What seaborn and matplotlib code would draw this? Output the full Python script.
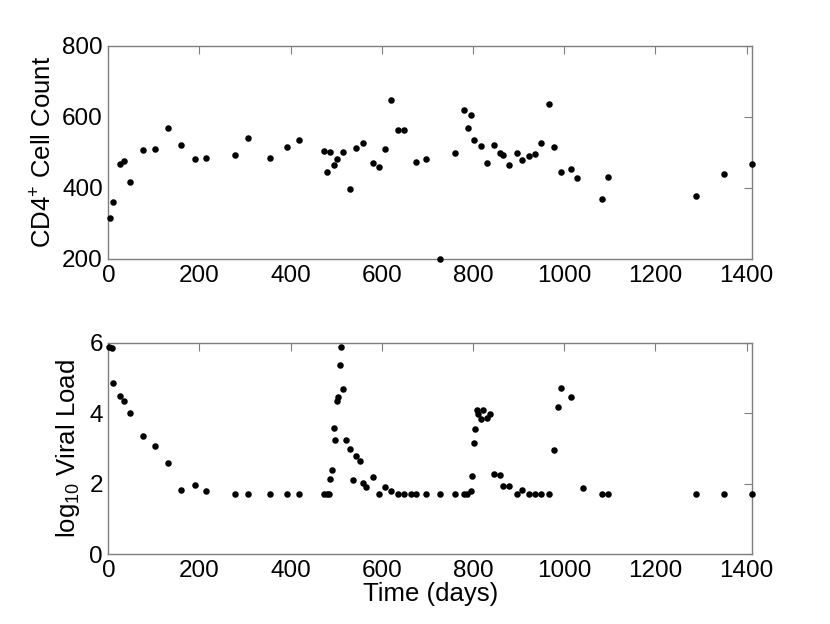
import matplotlib
matplotlib.use("Agg")
import matplotlib.pyplot as plt
import seaborn as sns
import pandas as pd

cd4_days = [4.5, 11, 25.7, 33.7, 47.6, 75.4, 103, 131, 159, 189.5, 215, 277, 307, 354,
            392, 419, 473, 480, 487, 494, 501, 515, 530, 543, 558, 581, 593, 606, 620,
            635, 649, 676, 697, 727, 760, 781, 789, 795, 802, 817, 830, 847, 859, 865,
            879, 896, 907, 923, 936, 950, 966, 978, 993, 1014, 1028, 1083, 1097, 1289,
            1350, 1412]
cd4_count = [314, 361, 467, 477, 418, 507, 509, 570, 522, 481, 484, 494, 540, 484,
             515, 535, 504, 445, 502, 465, 481, 502, 397, 513, 527, 470, 459, 511, 647,
             563, 564, 472, 482, 200, 498, 620, 569, 604, 535, 519, 471, 520, 497, 494,
             465, 497, 479, 490, 496, 527, 635, 516, 446, 452, 427, 370, 431, 377,
             438, 468]

vl_days = [2, 7, 11, 26, 34, 48, 75, 103, 131, 159, 189.5, 215, 277, 307, 354, 392, 419,
           473, 479, 484, 487, 490, 494, 497.5, 501, 503, 508, 510, 515, 522, 530, 537,
           543, 552, 558, 566, 581, 593, 606, 620, 635, 649, 663, 676, 697, 727, 760,
           781, 787, 795, 797, 802, 805, 809, 811, 817, 823, 830, 838, 847, 859, 865,
           879, 896, 907, 923, 936, 950, 966, 978, 987, 993, 1014, 1042, 1083, 1097,
           1289, 1350, 1412]
vl_log = [5.87, 5.86, 4.86, 4.48, 4.33, 3.99, 3.34, 3.06, 2.59, 1.82, 1.97, 1.79, 1.7,
          1.7, 1.7, 1.7, 1.7, 1.7, 1.7, 1.7, 2.14, 2.38, 3.57, 3.23, 4.33, 4.45, 5.37,
          5.88, 4.68, 3.23, 2.99, 2.09, 2.77, 2.63, 2.03, 1.90, 2.19, 1.7, 1.90, 1.79,
          1.7, 1.7, 1.7, 1.7, 1.7, 1.7, 1.7, 1.7, 1.7, 1.79, 2.21, 3.16, 3.54, 4.08,
          3.98, 3.84, 4.08, 3.87, 3.98, 2.26, 2.24, 1.92, 1.93, 1.7, 1.83, 1.7, 1.7,
          1.7, 1.7, 2.96, 4.18, 4.71, 4.46, 1.87, 1.7, 1.7, 1.7, 1.7, 1.7]

x_ticks = [0, 200, 400, 600, 800, 1000, 1200, 1400]
cd4_ticks = [200, 400, 600, 800]
vl_ticks = [0, 2, 4, 6]

sns.set_style("white")
plt.rcParams['font.family'] = ['Liberation Sans', 'DejaVu Sans']
plt.rcParams['mathtext.fontset'] = 'custom'
plt.rcParams['mathtext.rm'] = 'Liberation Sans'
plt.rcParams['mathtext.it'] = 'Liberation Sans'
plt.rcParams['axes.labelcolor'] = 'black'
plt.rcParams['text.color'] = 'black'

fig = plt.figure(figsize=(8.3, 6.24), dpi=100)
ax1 = fig.add_axes([0.1305, 0.585, 0.7755, 0.3415])
ax2 = fig.add_axes([0.1305, 0.112, 0.7755, 0.339])

df1 = pd.DataFrame({"t": cd4_days, "v": cd4_count})
df2 = pd.DataFrame({"t": vl_days, "v": vl_log})

for ax, df, yt, ylim in [(ax1, df1, cd4_ticks, (200, 800)), (ax2, df2, vl_ticks, (0, 6))]:
    sns.scatterplot(data=df, x="t", y="v", ax=ax, color="black", s=22,
                    edgecolor="black", linewidth=0, clip_on=False, zorder=3)
    ax.set_xlim(0, 1412)
    ax.set_ylim(*ylim)
    ax.set_xticks(x_ticks)
    ax.set_yticks(yt)
    ax.tick_params(direction="in", length=6, width=0.8, color="#7f7f7f",
                   top=True, right=True, labelsize=17.5, pad=4, labelcolor="black")
    for sp in ax.spines.values():
        sp.set_color("#7f7f7f")
        sp.set_linewidth(1.0)
    ax.set_xlabel("")

ax1.set_ylabel(r"CD4$^{+}$ Cell Count", fontsize=18.5, labelpad=4, color="black")
ax2.set_ylabel(r"log$_{10}$ Viral Load", fontsize=18.5, labelpad=5, color="black")
ax2.set_xlabel("Time (days)", fontsize=18.5, labelpad=0, color="black")

fig.savefig("out.png", dpi=100)
